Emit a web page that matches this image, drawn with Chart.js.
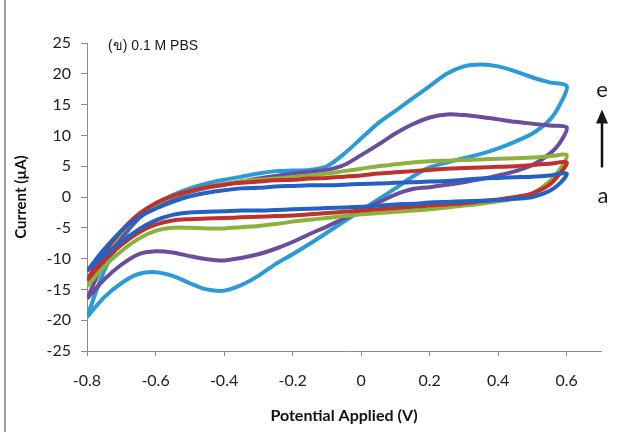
<!DOCTYPE html>
<html>
<head>
<meta charset="utf-8">
<script src="https://cdn.jsdelivr.net/npm/chart.js@4/dist/chart.umd.min.js"></script>
<style>
  html, body { margin: 0; padding: 0; background: #fff; }
  #wrap { width: 636px; height: 432px; }
</style>
</head>
<body>
<div id="wrap"><canvas id="cv" width="636" height="432"></canvas></div>
<script>
// potential grid (V): forward scan -0.8 -> 0.6, reverse scan 0.6 -> -0.8
const fwdV = [-0.8, -0.75, -0.7, -0.65, -0.6, -0.55, -0.5, -0.45, -0.4, -0.35, -0.3, -0.25, -0.2, -0.15, -0.1,
    -0.05, 0, 0.05, 0.1, 0.15, 0.2, 0.25, 0.3, 0.35, 0.4, 0.45, 0.5, 0.55, 0.6];
const revV = [0.58, 0.55, 0.5, 0.45, 0.4, 0.35, 0.3, 0.25, 0.2, 0.15, 0.1, 0.05, 0, -0.05, -0.1, -0.15,
    -0.2, -0.25, -0.3, -0.35, -0.4, -0.45, -0.5, -0.55, -0.6, -0.65, -0.7, -0.75, -0.8];

// current (µA) per curve
const aFwd = [-12, -8.5, -5.5, -3.3, -1.9, -0.8, 0.1, 0.7, 1.1, 1.4, 1.5, 1.7, 1.8, 1.9, 1.9, 2.0, 2.1, 2.2, 2.3, 2.4, 2.5, 2.6, 2.8, 3.0, 3.1, 3.2, 3.3, 3.5, 3.8];
const aRev = [2.2, 1.0, 0.0, -0.3, -0.5, -0.6, -0.7, -0.8, -0.9, -1.1, -1.2, -1.4, -1.6, -1.7, -1.8, -1.9, -2.0, -2.1, -2.2, -2.2, -2.3, -2.4, -2.5, -2.9, -3.8, -5.3, -7.3, -9.5, -12];
const bFwd = [-13.5, -9, -5.5, -2.8, -1.0, 0.2, 1.0, 1.6, 2.0, 2.3, 2.5, 2.7, 2.8, 3.0, 3.1, 3.3, 3.5, 3.8, 4.0, 4.2, 4.4, 4.6, 4.7, 4.8, 4.9, 5.0, 5.2, 5.4, 5.6];
const bRev = [3.8, 2.0, 0.6, 0.0, -0.4, -0.7, -1.0, -1.2, -1.4, -1.6, -1.8, -2.0, -2.2, -2.4, -2.6, -2.8, -3.0, -3.1, -3.2, -3.3, -3.4, -3.5, -3.6, -3.8, -4.5, -5.8, -7.8, -10.3, -13.5];
const cFwd = [-14.5, -9.5, -5.8, -3.0, -1.2, 0.1, 1.0, 1.6, 2.1, 2.5, 2.8, 3.0, 3.2, 3.5, 3.8, 4.2, 4.6, 5.0, 5.3, 5.6, 5.8, 5.9, 6.0, 6.1, 6.2, 6.3, 6.4, 6.6, 6.8];
const cRev = [4.5, 2.5, 0.6, -0.2, -0.7, -1.1, -1.4, -1.7, -2.0, -2.2, -2.4, -2.6, -2.8, -3.1, -3.4, -3.7, -4.0, -4.4, -4.7, -4.9, -5.1, -5.1, -5.0, -5.0, -5.5, -6.8, -8.8, -11.3, -14.5];
const dFwd = [-16.5, -10.5, -6.5, -3.5, -1.5, -0.2, 0.8, 1.5, 2.0, 2.5, 3.0, 3.4, 3.8, 4.1, 4.4, 5.2, 6.8, 8.5, 10.3, 11.8, 12.9, 13.4, 13.3, 13.0, 12.6, 12.2, 11.9, 11.6, 11.3];
const dRev = [8.8, 7.0, 5.2, 4.2, 3.5, 2.9, 2.4, 2.0, 1.6, 1.3, 0.4, -0.9, -2.2, -3.5, -4.8, -6.0, -7.3, -8.4, -9.3, -9.9, -10.3, -10.1, -9.6, -9.0, -8.8, -9.3, -11.0, -13.4, -16.5];
const eFwd = [-19.5, -12, -7, -3.5, -1.2, 0.3, 1.4, 2.2, 2.8, 3.3, 3.8, 4.2, 4.3, 4.4, 5.0, 7.0, 9.5, 12.0, 14.0, 16.0, 18.0, 20.0, 21.2, 21.5, 21.2, 20.4, 19.4, 18.6, 18.0];
const eRev = [15.0, 12.5, 10.3, 9.0, 7.9, 7.0, 6.3, 5.6, 4.8, 3.3, 1.4, -0.4, -2.2, -4.0, -5.8, -7.6, -9.3, -10.9, -12.8, -14.3, -15.2, -15.0, -14.0, -12.8, -12.2, -12.5, -14.0, -16.3, -19.5];

const xTicks = [-0.8, -0.6, -0.4, -0.2, 0, 0.2, 0.4, 0.6];

const loop = (fwd, rev) => fwdV.map((v, i) => ({ x: v, y: fwd[i] }))
    .concat(revV.map((v, i) => ({ x: v, y: rev[i] })));

const serie = (label, fwd, rev, cor) => ({
    label, data: loop(fwd, rev), borderColor: cor, borderWidth: 4,
    showLine: true, pointRadius: 0, tension: 0.3, fill: false
});

// texto e setas desenhados por cima
const extras = {
    id: 'extras',
    beforeDraw: (chart) => {
        const ctx = chart.ctx;
        ctx.save();
        ctx.strokeStyle = '#9a9a9a';
        ctx.lineWidth = 2;
        ctx.beginPath();
        ctx.moveTo(5, 0);
        ctx.lineTo(5, 432);
        ctx.stroke();
        ctx.restore();
    },
    afterDraw: (chart) => {
        const ctx = chart.ctx;
        const xs = chart.scales.x, ys = chart.scales.y;
        ctx.save();
        ctx.fillStyle = '#1a1a1a';
        ctx.font = '14px "Liberation Sans", Arial, sans-serif';
        ctx.textBaseline = 'middle';
        ctx.fillText('(ข) 0.1 M PBS', chart.chartArea.left + 21, ys.getPixelForValue(24.5));

        const ax = xs.getPixelForValue(0.7) + 1;
        ctx.font = '22px Lato, sans-serif';
        ctx.textAlign = 'center';
        ctx.fillText('e', ax, ys.getPixelForValue(17.4));
        ctx.fillText('a', ax + 1, ys.getPixelForValue(0.2));

        const y0 = ys.getPixelForValue(4.8), y1 = ys.getPixelForValue(14.2);
        ctx.strokeStyle = '#111';
        ctx.lineWidth = 2.5;
        ctx.beginPath();
        ctx.moveTo(ax, y0);
        ctx.lineTo(ax, y1 + 10);
        ctx.stroke();
        ctx.beginPath();
        ctx.moveTo(ax, y1);
        ctx.lineTo(ax - 6, y1 + 14);
        ctx.lineTo(ax + 6, y1 + 14);
        ctx.closePath();
        ctx.fill();
        ctx.restore();
    }
};

new Chart(document.getElementById('cv'), {
    type: 'scatter',
    data: {
        datasets: [
            serie('a', aFwd, aRev, '#2361c4'),
            serie('b', bFwd, bRev, '#c1312b'),
            serie('c', cFwd, cRev, '#8cb23e'),
            serie('d', dFwd, dRev, '#6b4d9e'),
            serie('e', eFwd, eRev, '#2a9bd7')
        ]
    },
    options: {
        responsive: false,
        animation: false,
        devicePixelRatio: 1,
        layout: { padding: { top: 43, right: 35, bottom: 5, left: 12 } },
        plugins: { legend: { display: false }, tooltip: { enabled: false } },
        scales: {
            x: {
                type: 'linear', min: -0.8, max: 0.7,
                afterBuildTicks: (s) => { s.ticks = xTicks.map(v => ({ value: v })); },
                afterFit: (s) => { s.height = 76; },
                border: { color: '#8a8a8a', width: 1 },
                grid: { drawOnChartArea: false, drawTicks: true, tickLength: 5, color: '#8a8a8a' },
                ticks: {
                    padding: 15, color: '#222',
                    font: { family: 'Lato, sans-serif', size: 16 },
                    callback: (v) => String(Number(v.toFixed(1)))
                },
                title: {
                    display: true, text: 'Potential Applied (V)', color: '#111',
                    font: { family: 'Lato, sans-serif', size: 16, weight: 'bold' },
                    padding: { top: 0, bottom: 2 }
                }
            },
            y: {
                type: 'linear', min: -25, max: 25,
                afterFit: (s) => { s.width = 75; },
                border: { color: '#8a8a8a', width: 1 },
                grid: { drawOnChartArea: false, drawTicks: true, tickLength: 6, color: '#8a8a8a' },
                ticks: {
                    stepSize: 5, padding: 10, color: '#222',
                    font: { family: 'Lato, sans-serif', size: 16 }
                },
                title: {
                    display: true, text: 'Current (µA)', color: '#111',
                    font: { family: 'Lato, sans-serif', size: 15, weight: 'bold' },
                    padding: { top: 0, bottom: 6 }
                }
            }
        }
    },
    plugins: [extras]
});
</script>
</body>
</html>
